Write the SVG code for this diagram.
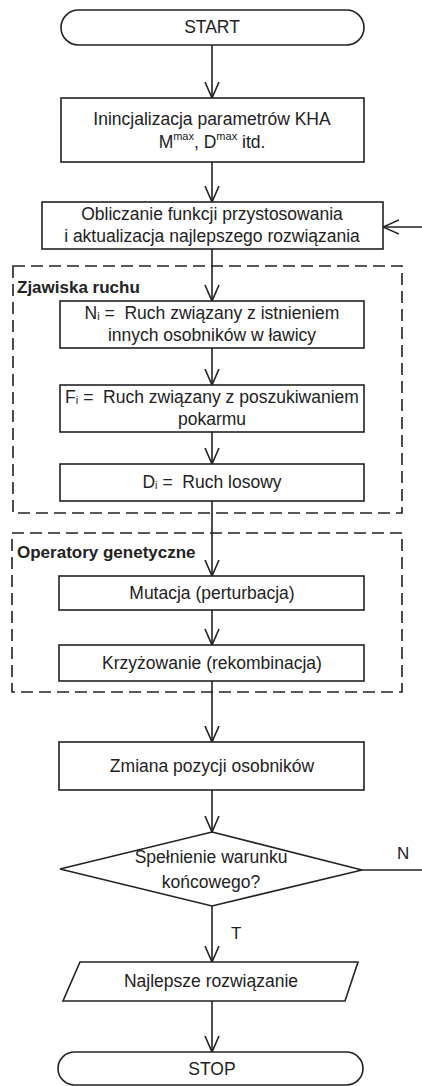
<svg xmlns="http://www.w3.org/2000/svg" width="422" height="1086" viewBox="0 0 422 1086">
<style>
.s{fill:#fff;stroke:#222;stroke-width:1.6}
.t{font-family:"Liberation Sans",Arial,sans-serif;font-size:17.5px;fill:#222;text-anchor:middle;dominant-baseline:middle;white-space:pre}
.b{font-family:"Liberation Sans",Arial,sans-serif;font-size:17px;font-weight:bold;fill:#222}
.l{font-family:"Liberation Sans",Arial,sans-serif;font-size:17px;fill:#222}
.d{fill:none;stroke:#222;stroke-width:1.6;stroke-dasharray:12,6}
.c{fill:none;stroke:#222;stroke-width:1.6;marker-end:url(#a)}
</style>
<defs>
<marker id="a" viewBox="0 0 16 16" refX="16" refY="8" markerWidth="16" markerHeight="16" markerUnits="userSpaceOnUse" orient="auto">
<path d="M0,1 L16,8 L0,15" fill="none" stroke="#222" stroke-width="1.6"/>
</marker>
</defs>
<rect width="422" height="1086" fill="#fff"/>
<g id="groups">
<rect id="grp-ruch" class="d" x="13" y="266" width="389" height="247"/>
<text class="b" x="17" y="293">Zjawiska ruchu</text>
<rect id="grp-gen" class="d" x="12" y="533" width="390" height="159"/>
<text class="b" x="17" y="558">Operatory genetyczne</text>
</g>
<g id="connectors">
<path class="c" d="M212,45 V98"/>
<path class="c" d="M212,162 V202"/>
<path class="c" d="M212,249 V301"/>
<path class="c" d="M212,348 V385"/>
<path class="c" d="M212,432 V464"/>
<path class="c" d="M212,501 V576"/>
<path class="c" d="M212,610 V645"/>
<path class="c" d="M212,681 V742"/>
<path class="c" d="M212,790 V832"/>
<path class="c" d="M212,906 V962"/>
<path class="c" d="M212,1001 V1052"/>
<path class="c" d="M362,870 H426 V227 H383"/>
<text class="l" x="397" y="859">N</text>
<text class="l" x="231" y="939">T</text>
</g>
<g id="start">
<rect class="s" x="61" y="10" width="303" height="35" rx="17.5"/>
<text class="t" x="212" y="28">START</text>
</g>
<g id="init">
<rect class="s" x="61" y="98" width="303" height="64"/>
<text class="t" x="212" y="120">Inincjalizacja parametrów KHA</text>
<text class="t" x="212" y="143">M<tspan font-size="11" dy="-6">max</tspan><tspan dy="6">, D</tspan><tspan font-size="11" dy="-6">max</tspan><tspan dy="6"> itd.</tspan></text>
</g>
<g id="fitness">
<rect class="s" x="42" y="202" width="341" height="47"/>
<text class="t" x="212" y="215">Obliczanie funkcji przystosowania</text>
<text class="t" x="212" y="237">i aktualizacja najlepszego rozwiązania</text>
</g>
<g id="ni">
<rect class="s" x="60" y="301" width="304" height="47"/>
<text class="t" x="212" y="314">N<tspan font-size="11" dy="3">i</tspan><tspan dy="-3"> =  Ruch związany z istnieniem</tspan></text>
<text class="t" x="212" y="336">innych osobników w ławicy</text>
</g>
<g id="fi">
<rect class="s" x="60" y="385" width="304" height="47"/>
<text class="t" x="212" y="398">F<tspan font-size="11" dy="3">i</tspan><tspan dy="-3"> =  Ruch związany z poszukiwaniem</tspan></text>
<text class="t" x="212" y="420">pokarmu</text>
</g>
<g id="di">
<rect class="s" x="60" y="464" width="304" height="37"/>
<text class="t" x="212" y="483">D<tspan font-size="11" dy="3">i</tspan><tspan dy="-3"> =  Ruch losowy</tspan></text>
</g>
<g id="mutacja">
<rect class="s" x="59" y="576" width="305" height="34"/>
<text class="t" x="212" y="594">Mutacja (perturbacja)</text>
</g>
<g id="krzyzowanie">
<rect class="s" x="59" y="645" width="305" height="36"/>
<text class="t" x="212" y="664">Krzyżowanie (rekombinacja)</text>
</g>
<g id="zmiana">
<rect class="s" x="59" y="742" width="305" height="48"/>
<text class="t" x="212" y="767">Zmiana pozycji osobników</text>
</g>
<g id="warunek">
<polygon class="s" points="212,832 362,870 212,906 60,869"/>
<text class="t" x="211" y="858">Spełnienie warunku</text>
<text class="t" x="211" y="883">końcowego?</text>
</g>
<g id="wynik">
<polygon class="s" points="80,962 358,962 345,1001 63,1001"/>
<text class="t" x="211" y="982">Najlepsze rozwiązanie</text>
</g>
<g id="stop">
<rect class="s" x="58" y="1052" width="305" height="33" rx="16.5"/>
<text class="t" x="212" y="1070">STOP</text>
</g>
</svg>
